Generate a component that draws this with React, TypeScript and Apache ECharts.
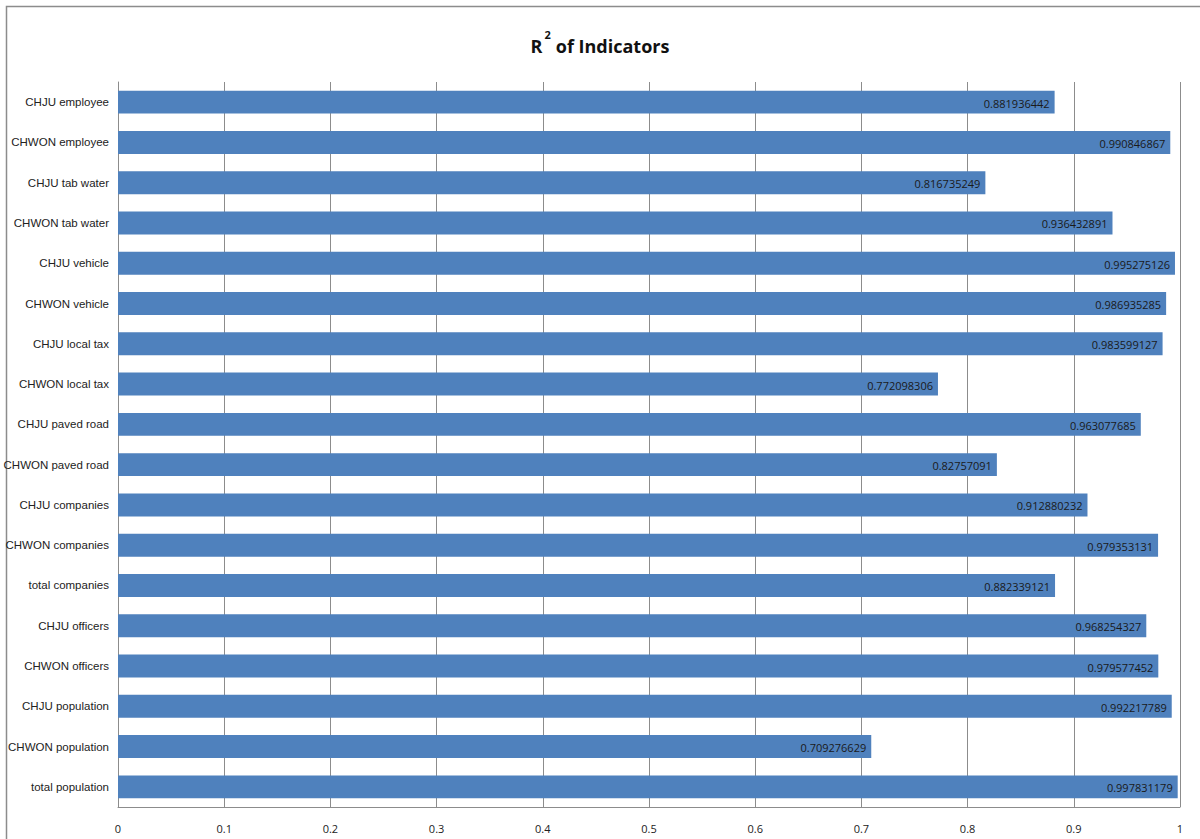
import React, { useEffect, useRef } from "react";
import * as echarts from "echarts";

const categories = [
  "CHJU employee",
  "CHWON employee",
  "CHJU tab water",
  "CHWON tab water",
  "CHJU vehicle",
  "CHWON vehicle",
  "CHJU local tax",
  "CHWON local tax",
  "CHJU paved road",
  "CHWON paved road",
  "CHJU companies",
  "CHWON companies",
  "total companies",
  "CHJU officers",
  "CHWON officers",
  "CHJU population",
  "CHWON population",
  "total population",
];

const values = [
  0.881936442, 0.990846867, 0.816735249, 0.936432891, 0.995275126, 0.986935285,
  0.983599127, 0.772098306, 0.963077685, 0.82757091, 0.912880232, 0.979353131,
  0.882339121, 0.968254327, 0.979577452, 0.992217789, 0.709276629, 0.997831179,
];

const labels = [
  "0.881936442", "0.990846867", "0.816735249", "0.936432891", "0.995275126", "0.986935285",
  "0.983599127", "0.772098306", "0.963077685", "0.82757091", "0.912880232", "0.979353131",
  "0.882339121", "0.968254327", "0.979577452", "0.992217789", "0.709276629", "0.997831179",
];

const FONT = "'Open Sans', 'Liberation Sans', sans-serif";
const NARROW = "'Liberation Sans', 'Open Sans', sans-serif";

export default function App() {
  const ref = useRef<HTMLDivElement>(null);
  useEffect(() => {
    if (!ref.current) return;
    const chart = echarts.init(ref.current, null, { renderer: "svg" });
    chart.setOption({
      animation: false,
      backgroundColor: "#ffffff",
      title: {
        text: "{r|R}{s|2}{r|of Indicators}",
        left: "center",
        top: 24,
        textStyle: {
          rich: {
            r: { fontFamily: FONT, fontWeight: "bold", fontSize: 18, color: "#111", verticalAlign: "bottom", lineHeight: 26 },
            s: { fontFamily: FONT, fontWeight: "bold", fontSize: 11, color: "#111", verticalAlign: "top", lineHeight: 26, padding: [0, 5, 8, 2] },
          },
        },
      },
      graphic: [
        {
          type: "rect",
          shape: { x: 6.5, y: 6.5, width: 1205, height: 840 },
          style: { fill: "none", stroke: "#8c8c8c", lineWidth: 1.5 },
          silent: true,
        },
      ],
      grid: { left: 118, right: 20, top: 82, bottom: 32, containLabel: false, outerBoundsMode: "none" },
      xAxis: {
        type: "value",
        min: 0,
        max: 1,
        interval: 0.1,
        axisLine: { show: true, lineStyle: { color: "#8c8c8c" } },
        axisTick: { show: false },
        splitLine: { show: true, lineStyle: { color: "#8c8c8c", width: 1 } },
        axisLabel: {
          fontFamily: FONT,
          fontSize: 11,
          color: "#222",
          margin: 16,
          formatter: (v: number) => (Math.abs(v - 1) < 1e-9 ? "1" : Math.abs(v) < 1e-9 ? "0" : v.toFixed(1)),
        },
      },
      yAxis: {
        type: "category",
        data: categories,
        inverse: true,
        axisLine: { show: true, lineStyle: { color: "#8c8c8c" } },
        axisTick: { show: false },
        axisLabel: { fontFamily: NARROW, fontSize: 11.5, color: "#222", margin: 9 },
      },
      series: [
        {
          type: "bar",
          data: values,
          barWidth: "57%",
          itemStyle: { color: "#4F81BD" },
          label: {
            show: true,
            position: "insideRight",
            offset: [0, 1],
            fontFamily: FONT,
            fontSize: 11,
            color: "#1a1a1a",
            formatter: (p: any) => labels[p.dataIndex],
          },
        },
      ],
    });
    return () => chart.dispose();
  }, []);
  return (
    <div
      ref={ref}
      style={{ position: "absolute", left: 0, top: 0, width: 1200, height: 839 }}
    />
  );
}
